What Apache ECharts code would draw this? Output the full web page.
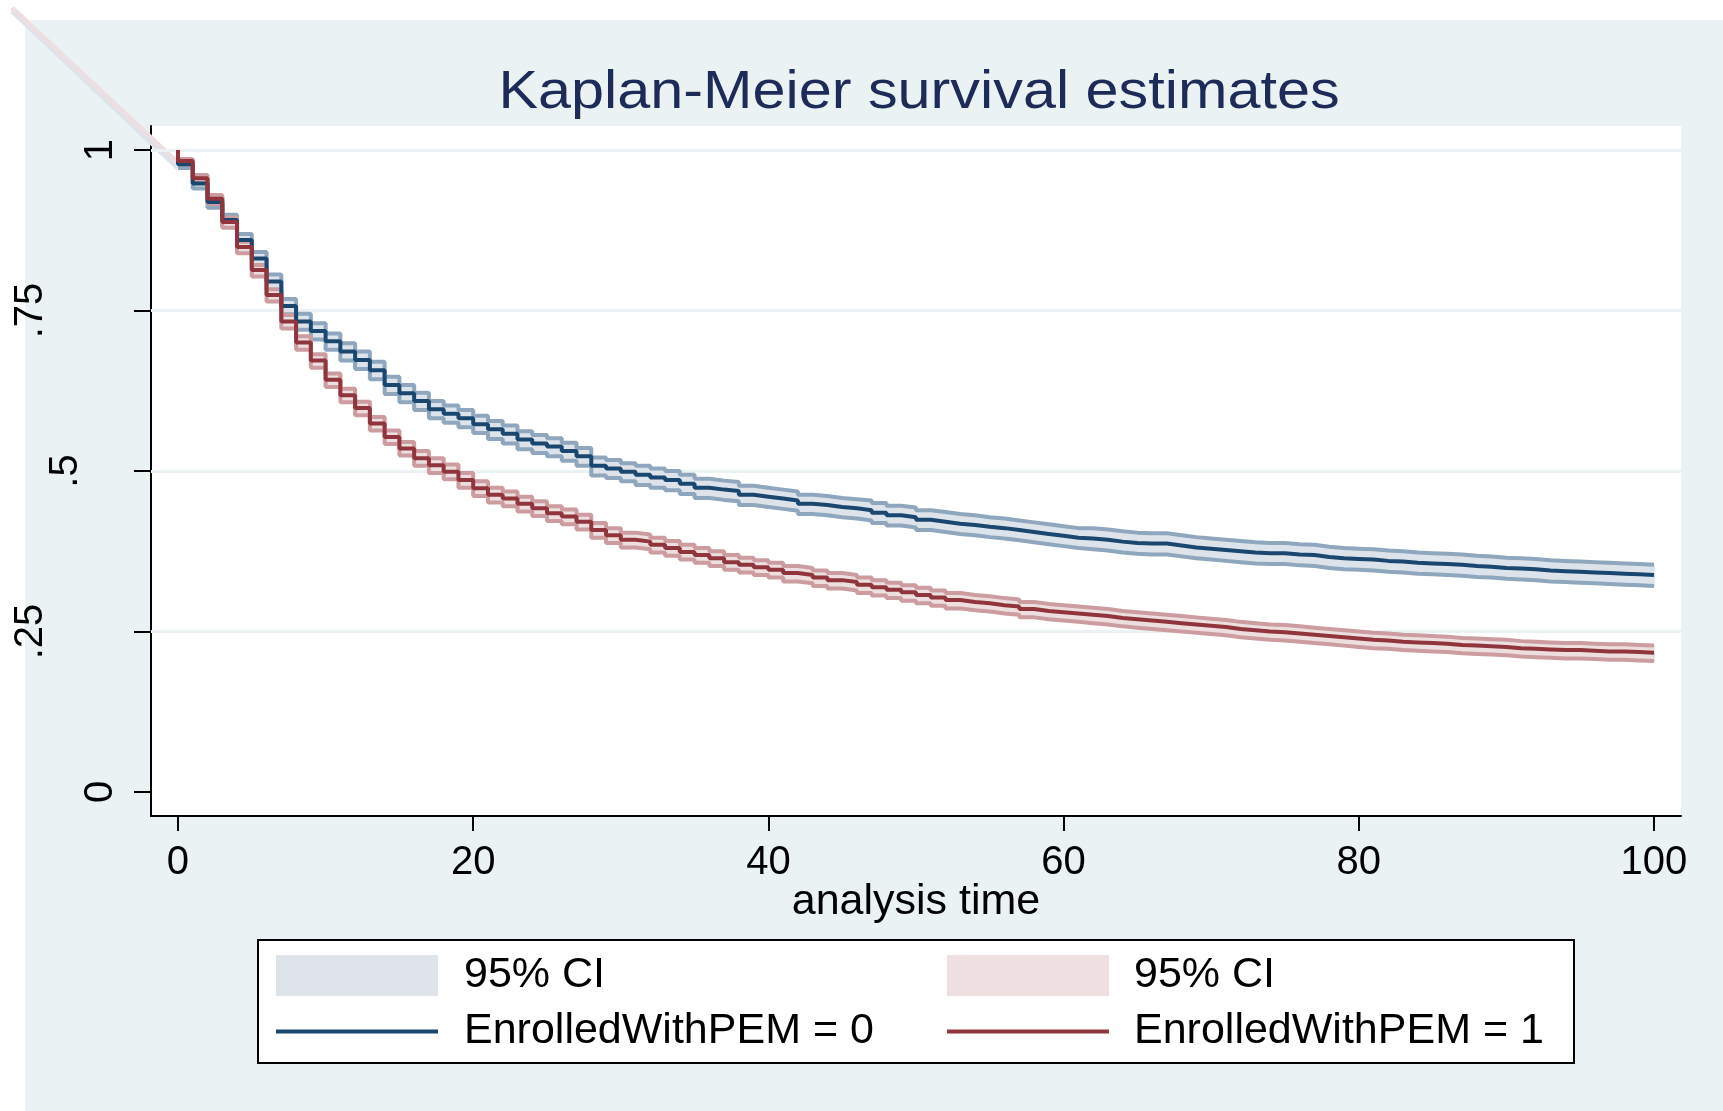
<!DOCTYPE html>
<html>
<head>
<meta charset="utf-8">
<script src="https://cdn.jsdelivr.net/npm/echarts@6/dist/echarts.min.js"></script>
<style>
html, body { margin: 0; padding: 0; background: #fff; }
#main { width: 1723px; height: 1111px; }
</style>
</head>
<body>
<div id="main"></div>
<script>
// analysis time grid (one step per time unit)
var times = [0,1,2,3,4,5,6,7,8,9,10,11,12,13,14,15,16,17,18,19,20,21,22,23,24,25,26,27,28,29,30,
  31,32,33,34,35,36,37,38,39,40,41,42,43,44,45,46,47,48,49,50,51,52,53,54,55,56,57,58,59,60,
  61,62,63,64,65,66,67,68,69,70,71,72,73,74,75,76,77,78,79,80,81,82,83,84,85,86,87,88,89,90,
  91,92,93,94,95,96,97,98,99,100];
var survStart = 1;

// EnrolledWithPEM = 0
var surv0 = [0.978,0.948,0.919,0.891,0.860,0.831,0.795,0.757,0.733,0.718,
  0.702,0.686,0.673,0.657,0.634,0.621,0.609,0.596,0.589,0.582,
  0.573,0.565,0.558,0.549,0.543,0.538,0.531,0.523,0.508,0.504,
  0.499,0.494,0.490,0.486,0.480,0.474,0.471,0.469,0.463,0.460,
  0.457,0.454,0.449,0.447,0.444,0.442,0.439,0.435,0.431,0.428,
  0.424,0.421,0.418,0.416,0.413,0.411,0.408,0.405,0.402,0.399,
  0.396,0.395,0.393,0.390,0.388,0.387,0.387,0.384,0.381,0.379,
  0.377,0.375,0.373,0.372,0.372,0.370,0.369,0.366,0.364,0.363,
  0.362,0.360,0.359,0.357,0.356,0.355,0.354,0.352,0.351,0.349,
  0.348,0.347,0.345,0.344,0.343,0.342,0.341,0.340,0.339,0.338,
  0.337];
var upper0 = [0.982,0.954,0.926,0.899,0.869,0.841,0.806,0.768,0.745,0.730,
  0.714,0.699,0.686,0.670,0.647,0.634,0.622,0.609,0.602,0.595,
  0.586,0.578,0.571,0.562,0.556,0.551,0.544,0.536,0.521,0.517,
  0.512,0.508,0.504,0.500,0.494,0.488,0.485,0.483,0.477,0.474,
  0.471,0.468,0.463,0.461,0.458,0.456,0.454,0.450,0.446,0.443,
  0.439,0.436,0.433,0.431,0.428,0.426,0.423,0.420,0.417,0.414,
  0.411,0.411,0.409,0.406,0.404,0.403,0.403,0.400,0.397,0.395,
  0.393,0.391,0.389,0.388,0.388,0.386,0.385,0.382,0.380,0.379,
  0.378,0.376,0.375,0.373,0.372,0.371,0.370,0.368,0.367,0.365,
  0.364,0.363,0.361,0.360,0.359,0.358,0.357,0.356,0.355,0.354,
  0.353];
var lower0 = [0.972,0.940,0.910,0.881,0.849,0.819,0.782,0.744,0.720,0.705,
  0.689,0.672,0.659,0.643,0.620,0.607,0.595,0.582,0.575,0.568,
  0.559,0.550,0.543,0.534,0.528,0.523,0.516,0.508,0.493,0.489,
  0.484,0.478,0.474,0.470,0.464,0.458,0.455,0.453,0.447,0.444,
  0.441,0.438,0.433,0.431,0.428,0.426,0.423,0.419,0.415,0.412,
  0.408,0.405,0.402,0.400,0.397,0.395,0.392,0.389,0.386,0.383,
  0.380,0.378,0.376,0.373,0.371,0.370,0.370,0.367,0.364,0.362,
  0.360,0.358,0.356,0.355,0.355,0.353,0.352,0.349,0.347,0.346,
  0.345,0.343,0.342,0.340,0.339,0.338,0.337,0.335,0.334,0.332,
  0.331,0.330,0.328,0.327,0.326,0.325,0.324,0.323,0.322,0.321,
  0.320];

// EnrolledWithPEM = 1
var surv1 = [0.983,0.956,0.924,0.888,0.849,0.813,0.774,0.733,0.700,0.672,
  0.642,0.618,0.598,0.574,0.553,0.535,0.520,0.509,0.499,0.486,
  0.473,0.463,0.457,0.449,0.442,0.434,0.429,0.421,0.408,0.400,
  0.393,0.390,0.385,0.380,0.374,0.369,0.364,0.358,0.354,0.350,
  0.346,0.341,0.338,0.334,0.330,0.327,0.323,0.319,0.315,0.311,
  0.307,0.303,0.299,0.296,0.294,0.291,0.289,0.285,0.282,0.280,
  0.278,0.276,0.274,0.271,0.269,0.267,0.265,0.263,0.261,0.259,
  0.257,0.254,0.252,0.250,0.249,0.247,0.245,0.243,0.241,0.239,
  0.237,0.236,0.234,0.233,0.232,0.231,0.229,0.228,0.227,0.226,
  0.224,0.223,0.222,0.221,0.221,0.220,0.219,0.219,0.218,0.217,
  0.216];
var upper1 = [0.986,0.961,0.930,0.895,0.857,0.821,0.783,0.743,0.710,0.682,
  0.652,0.628,0.608,0.584,0.563,0.545,0.531,0.520,0.510,0.497,
  0.484,0.474,0.468,0.460,0.453,0.445,0.440,0.432,0.419,0.411,
  0.404,0.401,0.396,0.391,0.385,0.380,0.375,0.369,0.365,0.361,
  0.357,0.352,0.349,0.345,0.341,0.338,0.334,0.330,0.326,0.322,
  0.318,0.314,0.310,0.307,0.305,0.302,0.300,0.296,0.293,0.291,
  0.289,0.287,0.285,0.282,0.280,0.278,0.276,0.274,0.272,0.270,
  0.268,0.265,0.263,0.261,0.260,0.258,0.256,0.254,0.252,0.250,
  0.248,0.247,0.245,0.244,0.243,0.242,0.240,0.239,0.238,0.237,
  0.235,0.234,0.233,0.232,0.232,0.231,0.230,0.230,0.229,0.228,
  0.227];
var lower1 = [0.978,0.949,0.916,0.879,0.839,0.803,0.764,0.722,0.689,0.661,
  0.631,0.607,0.587,0.563,0.542,0.524,0.508,0.497,0.487,0.474,
  0.461,0.451,0.445,0.437,0.430,0.422,0.417,0.409,0.396,0.388,
  0.381,0.378,0.373,0.368,0.362,0.357,0.352,0.346,0.342,0.338,
  0.334,0.328,0.325,0.321,0.317,0.314,0.310,0.306,0.302,0.298,
  0.294,0.290,0.286,0.283,0.281,0.278,0.276,0.272,0.269,0.267,
  0.265,0.263,0.261,0.258,0.256,0.254,0.252,0.250,0.248,0.246,
  0.244,0.241,0.239,0.237,0.236,0.234,0.232,0.230,0.228,0.226,
  0.224,0.223,0.221,0.220,0.219,0.218,0.216,0.215,0.214,0.213,
  0.211,0.210,0.209,0.208,0.208,0.207,0.206,0.206,0.205,0.204,
  0.203];

var xTicks = [0, 20, 40, 60, 80, 100];
var yTicks = [0, 0.25, 0.5, 0.75, 1];
var yTickLabels = ['0', '.25', '.5', '.75', '1'];
var gridValues = [0.25, 0.5, 0.75, 1];

var FONT = '"Liberation Sans", Arial, sans-serif';
var BG = '#eaf2f3';
var NAVY = '#1a476f', MAROON = '#90353b';
var EDGE0 = '#8ea7be', FILL0 = '#dde3ea';
var EDGE1 = '#cc9ca0', FILL1 = '#eddfe0';

function pairs(vals) {
  return times.map(function (t, i) { return [t, vals[i]]; });
}
// one row per step: [t, next t, lower, upper]
function bandRows(lo, hi) {
  return times.map(function (t, i) {
    var tNext = i + 1 < times.length ? times[i + 1] : t;
    return [t, tNext, lo[i], hi[i]];
  });
}
function renderBand(params, api) {
  var a = api.coord([api.value(0), api.value(3)]);
  var b = api.coord([api.value(1), api.value(2)]);
  return {
    type: 'rect',
    shape: { x: a[0], y: a[1], width: b[0] - a[0] + 0.6, height: b[1] - a[1] },
    style: { fill: api.visual('color') }
  };
}

var chart = echarts.init(document.getElementById('main'));

var labelPad = { '0': 0, '.25': 70, '.5': 35, '.75': 70, '1': 0 };
var rich = {};
yTickLabels.forEach(function (s, i) {
  rich['p' + i] = { fontSize: 40, fontFamily: FONT, color: '#000', padding: [0, 0, labelPad[s], 0] };
});

function legendFor(idx, left, fill, lineColor, gap) {
  return {
    orient: 'vertical',
    left: left, top: 954,
    padding: 0,
    itemWidth: 162, itemHeight: 41, itemGap: 13,
    selectedMode: false,
    textStyle: { fontSize: 43, fontFamily: FONT, color: '#000', padding: [11, 0, 0, gap], lineHeight: 30 },
    formatter: function (n) { return n.indexOf('ci') === 0 ? '95% CI' : n; },
    data: [
      { name: 'ci' + idx, icon: 'rect', itemStyle: { color: fill, borderWidth: 0 } },
      { name: 'EnrolledWithPEM = ' + idx, itemStyle: { opacity: 0 }, lineStyle: { color: lineColor, width: 4 } }
    ]
  };
}

function edge(name, vals, color, z) {
  return {
    name: name, type: 'line', step: 'end', symbol: 'none', z: z,
    data: pairs(vals),
    lineStyle: { color: color, width: 4 }
  };
}

var option = {
  animation: false,
  backgroundColor: BG,
  grid: {
    left: 151, right: 42, top: 126, bottom: 295,
    show: true, backgroundColor: '#fff', borderWidth: 0
  },
  xAxis: {
    type: 'value',
    min: -1.829, max: 101.83,
    name: 'analysis time',
    nameLocation: 'middle',
    nameGap: 65,
    nameMoveOverlap: false,
    nameTextStyle: { fontSize: 43, fontFamily: FONT, color: '#000' },
    axisLine: { show: true, onZero: false, lineStyle: { color: '#000', width: 2 } },
    axisTick: { show: true, length: 15, customValues: xTicks, lineStyle: { color: '#000', width: 2 } },
    axisLabel: { customValues: xTicks, fontSize: 40, fontFamily: FONT, color: '#000', margin: 27 },
    splitLine: { show: false }
  },
  yAxis: {
    type: 'value',
    min: -0.0374, max: 1.0374,
    axisLine: { show: true, onZero: false, lineStyle: { color: '#000', width: 2 } },
    axisTick: { show: true, length: 17, customValues: yTicks, lineStyle: { color: '#000', width: 2 } },
    axisLabel: {
      customValues: yTicks,
      rotate: 90,
      margin: 30,
      formatter: function (v) {
        var i = yTicks.indexOf(v);
        return '{p' + i + '|' + yTickLabels[i] + '}';
      },
      rich: rich
    },
    splitLine: { show: false }
  },
  legend: [
    legendFor(0, 274, '#dfe3ea', NAVY, 21),
    legendFor(1, 945, '#eee0e1', MAROON, 20)
  ],
  graphic: [
    { type: 'rect', shape: { x: 0, y: 0, width: 1723, height: 20 }, style: { fill: '#fff' }, z: 0, silent: true },
    { type: 'rect', shape: { x: 0, y: 0, width: 25, height: 1111 }, style: { fill: '#fff' }, z: 0, silent: true },
    { type: 'line', shape: { x1: 12, y1: 11, x2: 178, y2: 168 }, style: { stroke: '#dde3ea', lineWidth: 5 }, z: 1, silent: true },
    { type: 'line', shape: { x1: 12, y1: 8, x2: 178, y2: 163 }, style: { stroke: '#eddfe1', lineWidth: 5 }, z: 1, silent: true },
    {
      type: 'text', x: 919, y: 93, scaleX: 1.12,
      style: {
        text: 'Kaplan-Meier survival estimates',
        font: '53px ' + FONT, fill: '#1c2b57',
        textAlign: 'center', textVerticalAlign: 'middle'
      },
      z: 5
    },
    {
      type: 'rect', shape: { x: 258, y: 940, width: 1316, height: 123 },
      style: { fill: '#fff', stroke: '#000', lineWidth: 2 }, z: 1, silent: true
    }
  ],
  series: [
    {
      name: 'ci0', type: 'custom', z: 2,
      renderItem: renderBand,
      encode: { x: [0, 1], y: [2, 3] },
      itemStyle: { color: FILL0 },
      data: bandRows(lower0, upper0),
      markLine: {
        z: 1, silent: true, symbol: 'none', animation: false,
        label: { show: false },
        lineStyle: { color: BG, width: 3, type: 'solid' },
        data: gridValues.map(function (v) { return { yAxis: v }; })
      }
    },
    edge('lo0', lower0, EDGE0, 3),
    edge('hi0', upper0, EDGE0, 3),
    {
      name: 'ci1', type: 'custom', z: 4,
      renderItem: renderBand,
      encode: { x: [0, 1], y: [2, 3] },
      itemStyle: { color: FILL1 },
      data: bandRows(lower1, upper1)
    },
    edge('lo1', lower1, EDGE1, 5),
    edge('hi1', upper1, EDGE1, 5),
    {
      name: 'EnrolledWithPEM = 0', type: 'line', step: 'end', symbol: 'none', z: 6,
      data: [[times[0], survStart]].concat(pairs(surv0)),
      itemStyle: { color: NAVY },
      lineStyle: { color: NAVY, width: 4 }
    },
    {
      name: 'EnrolledWithPEM = 1', type: 'line', step: 'end', symbol: 'none', z: 7,
      data: [[times[0], survStart]].concat(pairs(surv1)),
      itemStyle: { color: MAROON },
      lineStyle: { color: MAROON, width: 4 }
    }
  ]
};
chart.setOption(option);
</script>
</body>
</html>
